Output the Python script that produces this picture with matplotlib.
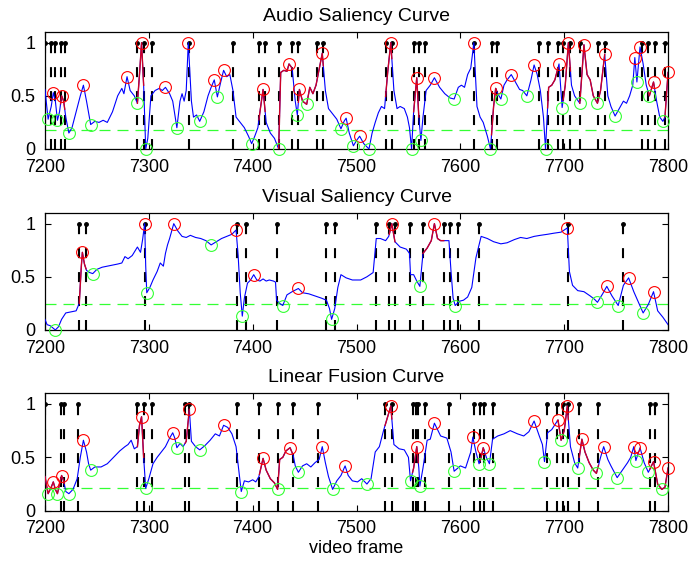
import numpy as np
import matplotlib
matplotlib.use('Agg')
import matplotlib.pyplot as plt

plt.rcParams['font.family'] = ['Liberation Sans', 'DejaVu Sans']
plt.rcParams['font.size'] = 13

# Audio saliency curve (frame, value)
audioFrames = [7200, 7203, 7206, 7208, 7210, 7212, 7214, 7216, 7218, 7220, 7223, 7226, 7230, 7234, 7237,
               7240, 7244, 7248, 7252, 7256, 7260, 7265, 7270, 7274, 7276, 7279, 7282, 7286, 7289, 7291,
               7293, 7295, 7297, 7299, 7302, 7306, 7310, 7313, 7316, 7320, 7323, 7327, 7330, 7332, 7334,
               7336, 7338, 7341, 7343, 7346, 7349, 7353, 7357, 7360, 7363, 7366, 7369, 7372, 7375, 7378,
               7381, 7384, 7388, 7392, 7396, 7399, 7402, 7405, 7407, 7410, 7413, 7417, 7421, 7425, 7427,
               7430, 7433, 7435, 7438, 7441, 7443, 7445, 7448, 7452, 7455, 7458, 7461, 7464, 7467, 7470,
               7473, 7477, 7481, 7485, 7488, 7490, 7493, 7497, 7500, 7503, 7507, 7512, 7515, 7518, 7521,
               7524, 7527, 7530, 7533, 7536, 7539, 7542, 7546, 7549, 7551, 7553, 7555, 7558, 7560, 7562,
               7564, 7567, 7571, 7575, 7580, 7585, 7590, 7594, 7598, 7601, 7604, 7607, 7610, 7613, 7616,
               7619, 7622, 7626, 7629, 7632, 7634, 7636, 7639, 7642, 7645, 7649, 7653, 7657, 7660, 7664,
               7668, 7671, 7674, 7677, 7680, 7682, 7685, 7688, 7691, 7695, 7698, 7701, 7704, 7707, 7710,
               7715, 7717, 7719, 7722, 7725, 7728, 7732, 7735, 7739, 7742, 7745, 7749, 7753, 7757, 7760,
               7763, 7766, 7768, 7770, 7773, 7776, 7779, 7782, 7786, 7789, 7792, 7795, 7797, 7800]
audioValues = [0.56, 0.28, 0.40, 0.53, 0.45, 0.27, 0.35, 0.50, 0.45, 0.30, 0.15, 0.20, 0.35, 0.50, 0.60,
               0.45, 0.23, 0.26, 0.25, 0.27, 0.25, 0.35, 0.50, 0.57, 0.52, 0.68, 0.55, 0.50, 0.43, 0.70,
               1.00, 0.60, 0.00, 0.10, 0.50, 0.55, 0.57, 0.55, 0.58, 0.52, 0.45, 0.20, 0.45, 0.52, 0.45,
               0.55, 1.00, 0.45, 0.30, 0.32, 0.26, 0.35, 0.50, 0.58, 0.65, 0.49, 0.62, 0.74, 0.68, 0.70,
               0.55, 0.30, 0.25, 0.20, 0.12, 0.05, 0.12, 0.20, 0.35, 0.56, 0.25, 0.15, 0.10, 0.00, 0.72,
               0.74, 0.73, 0.80, 0.76, 0.45, 0.32, 0.56, 0.45, 0.42, 0.58, 0.52, 0.60, 0.75, 0.90, 0.55,
               0.38, 0.33, 0.28, 0.19, 0.26, 0.29, 0.15, 0.03, 0.08, 0.12, 0.05, 0.00, 0.15, 0.25, 0.34,
               0.40, 0.38, 0.72, 1.00, 0.55, 0.38, 0.40, 0.38, 0.30, 0.20, 0.00, 0.35, 0.67, 0.30, 0.08,
               0.30, 0.55, 0.60, 0.67, 0.58, 0.52, 0.48, 0.47, 0.58, 0.60, 0.58, 0.70, 0.76, 1.00, 0.40,
               0.30, 0.25, 0.12, 0.00, 0.40, 0.57, 0.52, 0.47, 0.60, 0.65, 0.70, 0.63, 0.56, 0.55, 0.50,
               0.65, 0.79, 0.70, 0.55, 0.30, 0.00, 0.58, 0.60, 0.65, 0.80, 0.39, 0.60, 1.00, 0.60, 0.50,
               0.43, 0.70, 0.98, 0.70, 0.65, 0.50, 0.43, 0.55, 0.89, 0.50, 0.40, 0.31, 0.38, 0.45, 0.43,
               0.50, 0.60, 0.86, 0.63, 0.96, 0.80, 0.60, 0.50, 0.63, 0.45, 0.30, 0.26, 0.30, 0.72]
audioMax = [7208, 7216, 7237, 7279, 7293, 7316, 7338, 7363, 7372, 7410, 7435, 7445, 7467, 7490, 7503,
            7533, 7558, 7575, 7613, 7634, 7649, 7671, 7695, 7704, 7719, 7739, 7768, 7773, 7786, 7800]
audioMin = [7203, 7212, 7223, 7244, 7289, 7297, 7327, 7349, 7366, 7399, 7425, 7443, 7452, 7485, 7497,
            7512, 7553, 7562, 7594, 7629, 7639, 7664, 7682, 7698, 7715, 7732, 7749, 7770, 7782, 7795]
audioStems = [7200, 7206, 7210, 7215, 7219, 7289, 7295, 7303, 7339, 7381, 7406, 7412, 7425, 7438, 7444,
              7462, 7468, 7528, 7534, 7555, 7560, 7566, 7613, 7630, 7635, 7676, 7684, 7694, 7699, 7706,
              7715, 7733, 7739, 7775, 7781, 7787, 7797]
audioSegments = [(7215, 7219), (7289, 7295), (7406, 7412), (7425, 7438), (7444, 7468), (7528, 7534),
                 (7555, 7560), (7630, 7635), (7684, 7694), (7699, 7706), (7715, 7739), (7781, 7787),
                 (7797, 7800)]
audioThreshold = 0.18

# Visual saliency curve
visualFrames = [7200, 7202, 7205, 7210, 7213, 7216, 7220, 7225, 7230, 7233, 7235, 7236, 7238, 7240, 7243,
                7246, 7250, 7255, 7260, 7265, 7270, 7274, 7277, 7280, 7284, 7289, 7292, 7294, 7296, 7297,
                7298, 7301, 7304, 7308, 7311, 7314, 7316, 7318, 7320, 7324, 7328, 7332, 7336, 7340, 7345,
                7350, 7355, 7360, 7365, 7370, 7375, 7380, 7384, 7386, 7388, 7390, 7392, 7395, 7398, 7401,
                7404, 7407, 7410, 7413, 7416, 7420, 7422, 7423, 7426, 7429, 7433, 7438, 7444, 7448, 7454,
                7460, 7466, 7471, 7474, 7476, 7479, 7482, 7485, 7490, 7496, 7504, 7510, 7516, 7519, 7523,
                7528, 7531, 7534, 7537, 7542, 7548, 7551, 7552, 7555, 7558, 7561, 7564, 7568, 7572, 7575,
                7578, 7581, 7585, 7589, 7591, 7593, 7595, 7599, 7603, 7607, 7611, 7615, 7620, 7626, 7632,
                7639, 7645, 7652, 7658, 7664, 7671, 7677, 7684, 7690, 7697, 7703, 7705, 7708, 7713, 7719,
                7725, 7729, 7732, 7737, 7741, 7746, 7752, 7757, 7762, 7767, 7772, 7776, 7781, 7786, 7790,
                7795, 7800]
visualValues = [0.10, 0.05, 0.04, 0.00, 0.03, 0.10, 0.16, 0.17, 0.18, 0.25, 0.60, 0.73, 0.62, 0.56, 0.54,
                0.53, 0.57, 0.59, 0.60, 0.61, 0.62, 0.63, 0.69, 0.67, 0.70, 0.78, 0.73, 0.85, 1.00, 0.60,
                0.35, 0.40, 0.47, 0.55, 0.63, 0.60, 0.72, 0.80, 0.86, 1.00, 0.93, 0.88, 0.87, 0.89, 0.87,
                0.86, 0.84, 0.80, 0.83, 0.86, 0.88, 0.90, 0.94, 0.70, 0.35, 0.13, 0.30, 0.44, 0.47, 0.52,
                0.47, 0.46, 0.48, 0.46, 0.47, 0.46, 0.45, 0.28, 0.25, 0.23, 0.33, 0.36, 0.39, 0.35, 0.34,
                0.32, 0.30, 0.28, 0.20, 0.10, 0.20, 0.40, 0.52, 0.49, 0.47, 0.47, 0.50, 0.54, 0.86, 0.86,
                0.84, 0.88, 1.00, 0.83, 0.78, 0.76, 0.72, 0.52, 0.52, 0.46, 0.41, 0.72, 0.77, 0.84, 1.00,
                0.86, 0.84, 0.84, 0.84, 0.55, 0.30, 0.23, 0.27, 0.28, 0.31, 0.40, 0.68, 0.88, 0.86, 0.83,
                0.81, 0.82, 0.85, 0.87, 0.86, 0.88, 0.89, 0.90, 0.91, 0.92, 0.96, 0.55, 0.42, 0.37, 0.36,
                0.32, 0.29, 0.26, 0.34, 0.41, 0.32, 0.23, 0.42, 0.49, 0.36, 0.25, 0.16, 0.24, 0.36, 0.18,
                0.12, 0.05]
visualMax = [7236, 7296, 7324, 7384, 7401, 7444, 7534, 7575, 7703, 7741, 7762, 7786]
visualMin = [7210, 7246, 7298, 7360, 7390, 7429, 7476, 7561, 7595, 7732, 7752, 7776]
visualStems = [7233, 7239.5, 7296, 7385, 7393.5, 7423, 7470.5, 7479, 7519, 7531.5, 7537, 7551.5, 7564,
               7584, 7590, 7598, 7618, 7704, 7757]
visualSegments = [(7233, 7239.5), (7531.5, 7537), (7564, 7584)]
visualThreshold = 0.245

# Linear fusion curve
fusionFrames = [7200, 7203, 7206, 7208, 7210, 7212, 7214, 7216, 7218, 7220, 7223, 7227, 7231, 7234, 7237,
                7240, 7242, 7244, 7248, 7254, 7260, 7266, 7272, 7277, 7280, 7283, 7286, 7289, 7291, 7293,
                7295, 7297, 7300, 7304, 7308, 7312, 7316, 7320, 7323, 7325, 7327, 7330, 7333, 7336, 7339,
                7341, 7345, 7349, 7354, 7359, 7364, 7368, 7372, 7376, 7380, 7384, 7387, 7389, 7392, 7396,
                7400, 7403, 7406, 7410, 7413, 7417, 7421, 7424, 7426, 7429, 7432, 7436, 7439, 7441, 7444,
                7448, 7452, 7456, 7460, 7464, 7467, 7470, 7473, 7477, 7481, 7485, 7489, 7492, 7496, 7501,
                7505, 7510, 7514, 7518, 7522, 7526, 7530, 7533, 7536, 7541, 7546, 7550, 7552, 7555, 7558,
                7560, 7561, 7564, 7568, 7571, 7575, 7581, 7587, 7591, 7594, 7600, 7605, 7610, 7612, 7615,
                7618, 7620, 7622, 7625, 7628, 7631, 7636, 7642, 7648, 7655, 7661, 7666, 7671, 7676, 7679,
                7681, 7684, 7688, 7694, 7697, 7700, 7703, 7706, 7710, 7713, 7717, 7720, 7724, 7728, 7731,
                7735, 7738, 7742, 7745, 7751, 7756, 7761, 7764, 7767, 7769, 7773, 7777, 7781, 7786, 7790,
                7794, 7797, 7800]
fusionValues = [0.32, 0.16, 0.22, 0.27, 0.20, 0.16, 0.25, 0.33, 0.28, 0.18, 0.16, 0.20, 0.30, 0.50, 0.66,
                0.55, 0.44, 0.38, 0.41, 0.41, 0.44, 0.50, 0.56, 0.60, 0.62, 0.66, 0.58, 0.60, 0.80, 0.88,
                0.50, 0.21, 0.30, 0.44, 0.50, 0.55, 0.60, 0.68, 0.73, 0.68, 0.59, 0.63, 0.60, 0.65, 0.95,
                0.65, 0.60, 0.57, 0.61, 0.66, 0.72, 0.70, 0.80, 0.78, 0.72, 0.60, 0.35, 0.18, 0.28, 0.27,
                0.29, 0.27, 0.32, 0.49, 0.38, 0.30, 0.26, 0.20, 0.48, 0.50, 0.56, 0.59, 0.52, 0.42, 0.36,
                0.42, 0.44, 0.41, 0.45, 0.48, 0.60, 0.45, 0.32, 0.20, 0.28, 0.33, 0.42, 0.33, 0.28, 0.27,
                0.30, 0.25, 0.30, 0.55, 0.60, 0.75, 0.88, 0.98, 0.62, 0.58, 0.57, 0.50, 0.28, 0.40, 0.60,
                0.40, 0.23, 0.40, 0.66, 0.67, 0.82, 0.70, 0.68, 0.55, 0.37, 0.42, 0.40, 0.55, 0.69, 0.55,
                0.44, 0.50, 0.59, 0.50, 0.44, 0.67, 0.70, 0.72, 0.75, 0.72, 0.70, 0.74, 0.84, 0.70, 0.62,
                0.46, 0.73, 0.76, 0.85, 0.66, 0.75, 0.98, 0.60, 0.45, 0.40, 0.67, 0.55, 0.45, 0.38, 0.35,
                0.50, 0.60, 0.48, 0.42, 0.31, 0.38, 0.45, 0.50, 0.60, 0.47, 0.59, 0.45, 0.36, 0.46, 0.25,
                0.20, 0.22, 0.40]
fusionMax = [7208, 7216, 7237, 7293, 7323, 7339, 7372, 7410, 7436, 7467, 7489, 7533, 7558, 7575, 7612,
             7622, 7671, 7694, 7703, 7717, 7738, 7767, 7773, 7786, 7800]
fusionMin = [7203, 7212, 7223, 7244, 7297, 7327, 7349, 7389, 7424, 7444, 7477, 7510, 7552, 7561, 7594,
             7618, 7628, 7681, 7697, 7713, 7731, 7751, 7769, 7781, 7794]
fusionStems = [7200, 7215, 7218.5, 7232, 7289, 7295, 7303.5, 7335, 7339, 7384.5, 7406.5, 7424.5, 7438.5,
               7462.5, 7527.5, 7534, 7554, 7557.5, 7559.5, 7566, 7589.5, 7613, 7619, 7623, 7631, 7683,
               7693.5, 7699, 7704, 7714.5, 7733, 7782.5, 7787.5]
fusionSegments = [(7200, 7218.5), (7289, 7295), (7335, 7339), (7406.5, 7438.5), (7527.5, 7534),
                  (7554, 7559.5), (7619, 7623), (7693.5, 7704), (7714.5, 7733), (7782.5, 7800)]
fusionThreshold = 0.21

xTicks = [7200, 7300, 7400, 7500, 7600, 7700, 7800]
yTicks = [0, 0.5, 1]
yTickLabels = ['0', '0.5', '1']


def DrawPanel(ax, frames, values, maxFrames, minFrames, stems, segments, threshold, title):
    frames = np.array(frames, dtype=float)
    values = np.array(values, dtype=float)

    # Dashed stems with a dot on top
    for s in stems:
        ax.plot([s, s], [0, 1], color='k', lw=1.5, linestyle=(0, (4.8, 6.7)), zorder=1)
    ax.plot(stems, np.ones(len(stems)), 'k.', markersize=5, zorder=1)

    # Threshold
    ax.axhline(threshold, color=(0.2, 1, 0.2), lw=0.9, linestyle=(0, (8.8, 5.6)), zorder=2)

    # Curve and highlighted segments
    ax.plot(frames, values, color='b', lw=0.8, zorder=3)
    for a, b in segments:
        inside = frames[(frames > a) & (frames < b)]
        xs = np.concatenate([[a], inside, [b]])
        ax.plot(xs, np.interp(xs, frames, values), color=(0.8, 0, 0.15), lw=1.0, zorder=4)

    # Local maxima / minima
    ax.plot(maxFrames, np.interp(maxFrames, frames, values), 'o', mfc='none', mec='r',
            markersize=8.5, mew=0.8, zorder=5, clip_on=False)
    ax.plot(minFrames, np.interp(minFrames, frames, values), 'o', mfc='none', mec=(0.2, 1, 0.2),
            markersize=8.5, mew=0.8, zorder=5, clip_on=False)

    ax.set_xlim(7200, 7800)
    ax.set_ylim(0, 1.1)
    ax.set_xticks(xTicks)
    ax.set_yticks(yTicks)
    ax.set_yticklabels(yTickLabels)
    ax.tick_params(direction='in', top=True, right=True, length=4, width=0.8)
    ax.tick_params(axis='x', pad=7)
    ax.tick_params(axis='y', pad=7)
    for spine in ax.spines.values():
        spine.set_linewidth(0.9)
    ax.set_title(title, fontsize=14, pad=8)


fig = plt.figure(figsize=(6.9, 5.65), dpi=100)
ax1 = fig.add_axes([0.0652, 0.7363, 0.903, 0.207])
ax2 = fig.add_axes([0.0652, 0.4160, 0.903, 0.207])
ax3 = fig.add_axes([0.0652, 0.0960, 0.903, 0.208])

DrawPanel(ax1, audioFrames, audioValues, audioMax, audioMin, audioStems, audioSegments,
          audioThreshold, 'Audio Saliency Curve')
DrawPanel(ax2, visualFrames, visualValues, visualMax, visualMin, visualStems, visualSegments,
          visualThreshold, 'Visual Saliency Curve')
DrawPanel(ax3, fusionFrames, fusionValues, fusionMax, fusionMin, fusionStems, fusionSegments,
          fusionThreshold, 'Linear Fusion Curve')
ax3.set_xlabel('video frame', fontsize=13, labelpad=2)

fig.savefig('out.png', dpi=100)
